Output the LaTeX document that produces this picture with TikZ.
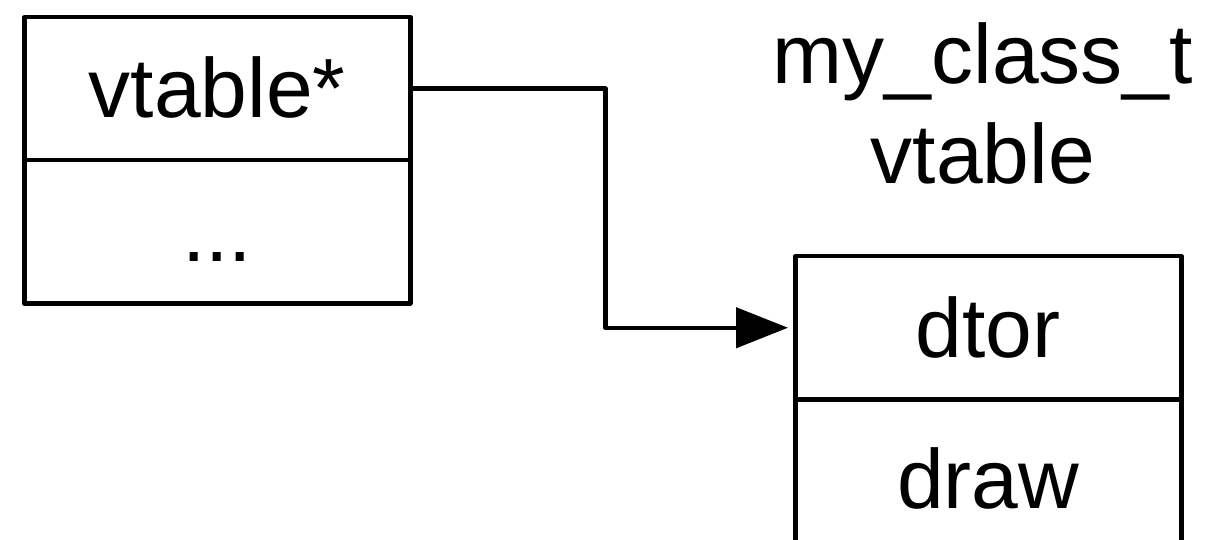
\documentclass[tikz,border=0pt]{standalone}
\usepackage{fontspec}
\setmainfont{Liberation Sans}
\usetikzlibrary{arrows.meta}
\newcommand{\bigtxt}{\fontsize{84}{100}\selectfont}
\tikzset{
  cell/.style={draw, line width=4.5pt, line join=round, minimum width=386pt, minimum height=143pt, inner sep=0pt, anchor=north west, font=\bigtxt},
  lbl/.style={inner sep=0pt, anchor=base, font=\bigtxt},
  conn/.style={line width=4.5pt, line join=round, -{Triangle[length=52pt,width=40pt]}, shorten >=5pt}
}
\begin{document}
\begin{tikzpicture}[x=1pt,y=-1pt]
\useasboundingbox (0,0) rectangle (1224,540);
\clip (0,0) rectangle (1224,540);
\node[cell] (vt) at (22,15) {\raisebox{3pt}{vtable*}};
\node[cell] (dots) at (22,158) {\vphantom{vtable}...};
\node[cell] (dt) at (793,254) {dtor};
\node[cell, minimum height=170pt] (dr) at (793,397) {\raisebox{13pt}{draw}};
\node[lbl] (t1) at (983,84) {my\_class\_t};
\node[lbl] (t2) at (983,184) {vtable};
\draw[conn] (vt.east) -- ++(193,0) |- (dt.west);
\end{tikzpicture}
\end{document}
